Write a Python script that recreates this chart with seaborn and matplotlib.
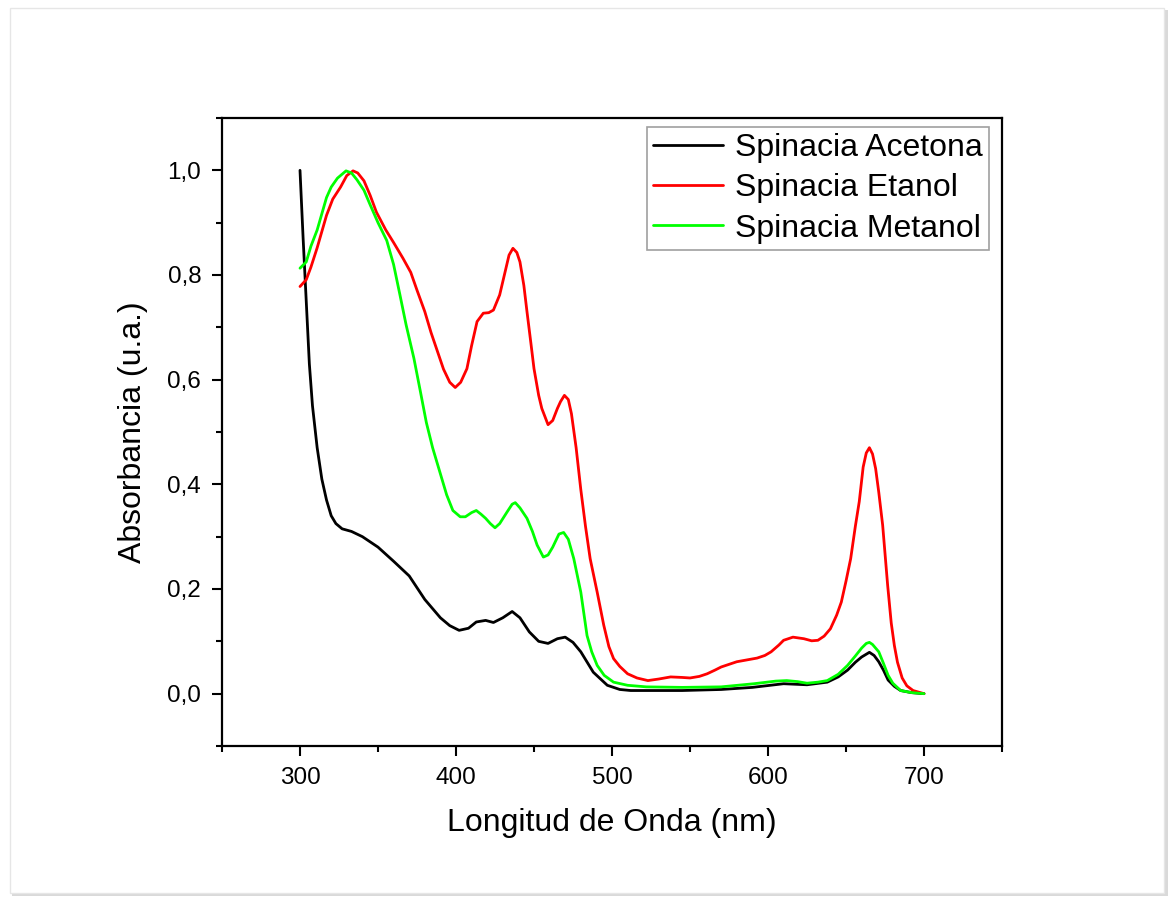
import numpy as np
import pandas as pd
import seaborn as sns
import matplotlib.pyplot as plt
from matplotlib.ticker import MultipleLocator, FuncFormatter
from matplotlib.patches import Rectangle

# wavelength (nm) / absorbance
acetona_nm = [300, 302, 303.5, 306, 308, 311, 314, 317, 320, 323, 327, 333, 340, 350, 360, 370,
              380, 390, 396, 402, 408, 413, 419, 424, 430, 436, 441, 447, 453, 459, 465, 470,
              475, 480, 488, 497, 505, 512, 530, 545, 570, 590, 610, 625, 638, 645, 651, 656,
              660, 665, 668, 671, 674, 677, 681, 685, 692, 700]
acetona_abs = [1.0, 0.87, 0.78, 0.63, 0.55, 0.47, 0.41, 0.37, 0.34, 0.325, 0.315, 0.31, 0.30, 0.28,
               0.253, 0.225, 0.18, 0.145, 0.13, 0.121, 0.125, 0.137, 0.14, 0.136, 0.145, 0.157,
               0.145, 0.118, 0.1, 0.096, 0.105, 0.108, 0.098, 0.08, 0.041, 0.016, 0.008, 0.006,
               0.006, 0.006, 0.008, 0.012, 0.019, 0.017, 0.022, 0.032, 0.045, 0.06, 0.07, 0.079,
               0.073, 0.061, 0.045, 0.026, 0.014, 0.006, 0.002, 0.0]

etanol_nm = [300, 304, 307, 311, 317, 321, 326, 330, 334, 337, 341, 345, 349, 355, 360, 366, 371,
             375, 380, 384, 388, 392, 396, 399.5, 403, 407, 410, 413.5, 417.5, 421, 424, 428, 431,
             434, 436.5, 439, 441, 443.5, 445.5, 448, 450, 453, 455, 459, 462, 465, 467, 469.5,
             472, 474, 477, 480, 483, 486, 490.5, 494.7, 498, 501, 505, 510, 516, 523, 530, 537.6,
             545, 550, 556, 561, 566, 570, 580, 593, 598, 602, 607, 610, 616, 623, 628, 632, 636,
             640, 644, 647, 650, 653, 656, 658.5, 661, 663, 665, 667, 669, 671, 673.5, 676.7, 679,
             681, 683, 686, 689, 693, 700]
etanol_abs = [0.778, 0.791, 0.815, 0.852, 0.914, 0.945, 0.968, 0.99, 0.999, 0.995, 0.98, 0.952,
              0.92, 0.886, 0.862, 0.832, 0.805, 0.771, 0.73, 0.69, 0.655, 0.62, 0.595, 0.585, 0.595,
              0.621, 0.665, 0.711, 0.727, 0.728, 0.733, 0.762, 0.80, 0.838, 0.851, 0.843, 0.825,
              0.78, 0.73, 0.67, 0.621, 0.57, 0.545, 0.514, 0.522, 0.545, 0.558, 0.57, 0.562, 0.535,
              0.47, 0.39, 0.32, 0.258, 0.194, 0.131, 0.09, 0.067, 0.052, 0.038, 0.03, 0.025, 0.028,
              0.032, 0.031, 0.030, 0.033, 0.038, 0.045, 0.051, 0.061, 0.068, 0.073, 0.08, 0.093,
              0.102, 0.108, 0.105, 0.101, 0.102, 0.11, 0.124, 0.15, 0.175, 0.215, 0.258, 0.32,
              0.367, 0.433, 0.46, 0.47, 0.458, 0.43, 0.385, 0.322, 0.207, 0.135, 0.092, 0.06, 0.03,
              0.015, 0.006, 0.0]

metanol_nm = [300, 304, 307, 311, 317, 320, 324, 329.5, 333, 336.5, 341, 345, 350, 355.6, 360,
              364, 368, 373, 377, 381, 385, 390, 394, 398, 402.7, 406, 410, 413, 416, 419, 422,
              425, 428, 432.7, 436, 438, 441, 445.5, 449, 452, 456, 459, 462, 466, 469, 472, 475.5,
              480, 484, 487, 490.5, 495, 501, 510, 522, 545, 570, 591, 605, 612, 619, 625, 632,
              638, 645, 651, 656, 660, 663, 665, 667, 671, 674, 677, 680, 685, 692, 700]
metanol_abs = [0.813, 0.825, 0.855, 0.886, 0.948, 0.968, 0.985, 0.999, 0.995, 0.982, 0.962, 0.934,
               0.90, 0.866, 0.82, 0.763, 0.705, 0.641, 0.58, 0.518, 0.47, 0.42, 0.38, 0.35, 0.338,
               0.338, 0.346, 0.35, 0.343, 0.335, 0.325, 0.317, 0.325, 0.347, 0.362, 0.365, 0.355,
               0.335, 0.31, 0.284, 0.261, 0.265, 0.28, 0.305, 0.308, 0.295, 0.258, 0.194, 0.111,
               0.08, 0.054, 0.035, 0.022, 0.016, 0.013, 0.012, 0.013, 0.019, 0.024, 0.025, 0.023,
               0.02, 0.022, 0.025, 0.037, 0.054, 0.072, 0.087, 0.096, 0.098, 0.094, 0.08, 0.058,
               0.035, 0.02, 0.006, 0.002, 0.0]

labels = ["Spinacia Acetona", "Spinacia Etanol", "Spinacia Metanol"]
colors = ["#000000", "#ff0000", "#00ff00"]

df = pd.concat([
    pd.DataFrame({"nm": acetona_nm, "abs": acetona_abs, "serie": labels[0]}),
    pd.DataFrame({"nm": etanol_nm, "abs": etanol_abs, "serie": labels[1]}),
    pd.DataFrame({"nm": metanol_nm, "abs": metanol_abs, "serie": labels[2]}),
], ignore_index=True)

sns.set_style("ticks")
plt.rcParams["font.family"] = ["Liberation Sans", "DejaVu Sans"]
plt.rcParams["text.color"] = "black"
plt.rcParams["axes.labelcolor"] = "black"
plt.rcParams["xtick.color"] = "black"
plt.rcParams["ytick.color"] = "black"

fig = plt.figure(figsize=(11.71, 8.99), dpi=100)
fig.patch.set_facecolor("white")

# page with a soft shadow
W, H = 1171, 899
fig.patches.append(Rectangle((12 / W, 1 - 896 / H), 1156 / W, 886 / H, transform=fig.transFigure,
                             facecolor="#d9d9d9", edgecolor="none", zorder=-3))
fig.patches.append(Rectangle((10 / W, 1 - 893 / H), 1154 / W, 885 / H, transform=fig.transFigure,
                             facecolor="white", edgecolor="#e6e6e6", linewidth=1, zorder=-2))

ax = fig.add_axes([222 / W, 1 - 746 / H, 780 / W, 628 / H])
ax.set_facecolor("none")

sns.lineplot(data=df, x="nm", y="abs", hue="serie", hue_order=labels, palette=colors,
             sort=False, estimator=None, linewidth=2.0, ax=ax)

ax.set_xlim(250, 750)
ax.set_ylim(-0.1, 1.1)
ax.xaxis.set_major_locator(MultipleLocator(100))
ax.xaxis.set_minor_locator(MultipleLocator(50))
ax.yaxis.set_major_locator(MultipleLocator(0.2))
ax.yaxis.set_minor_locator(MultipleLocator(0.1))
ax.yaxis.set_major_formatter(FuncFormatter(lambda v, p: f"{v:.1f}".replace(".", ",").replace("-0,0", "0,0")))

for s in ax.spines.values():
    s.set_linewidth(1.6)
    s.set_color("black")
ax.tick_params(which="major", direction="out", length=7, width=1.5, labelsize=17.5,
               top=False, right=False, pad=8)
ax.tick_params(which="minor", direction="out", length=4, width=1.5, top=False, right=False)

ax.set_xlabel("Longitud de Onda (nm)", fontsize=23, labelpad=14)
ax.set_ylabel("Absorbancia (u.a.)", fontsize=23, labelpad=14)

leg = ax.legend(loc="upper right", bbox_to_anchor=(0.983, 0.986), fontsize=23, frameon=True,
                fancybox=False, handlelength=2.2, handletextpad=0.35, labelspacing=0.32,
                borderpad=0.2, borderaxespad=0)
leg.get_frame().set_edgecolor("#888888")
leg.get_frame().set_linewidth(1.2)
for line in leg.get_lines():
    line.set_linewidth(2.0)
for t in leg.get_texts():
    t.set_color("black")

fig.savefig("out.png", dpi=100)
